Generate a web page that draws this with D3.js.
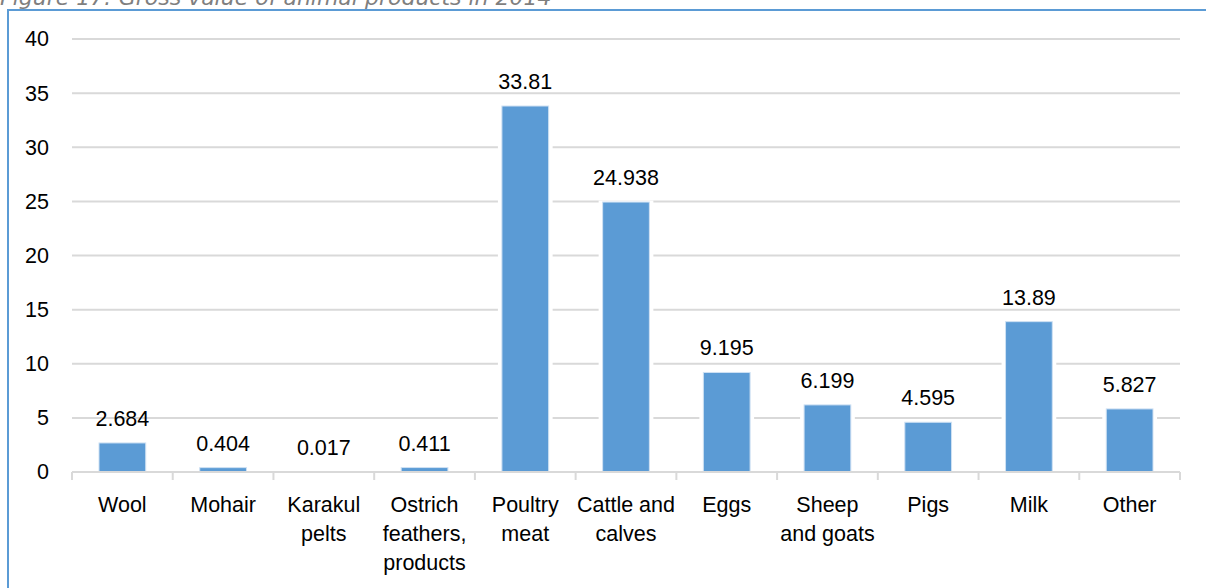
<!DOCTYPE html>
<html>
<head>
<meta charset="utf-8">
<script src="https://cdn.jsdelivr.net/npm/d3@7"></script>
<style>
  body { margin: 0; background: #fff; }
  svg { display: block; }
</style>
</head>
<body>
<svg id="bar-chart" width="1206" height="588"></svg>
<script>
// data
var categories = ["Wool", "Mohair", "Karakul pelts", "Ostrich feathers, products", "Poultry meat",
    "Cattle and calves", "Eggs", "Sheep and goats", "Pigs", "Milk", "Other"];
var labelLines = [["Wool"], ["Mohair"], ["Karakul", "pelts"], ["Ostrich", "feathers,", "products"],
    ["Poultry", "meat"], ["Cattle and", "calves"], ["Eggs"], ["Sheep", "and goats"], ["Pigs"], ["Milk"], ["Other"]];
var values = [2.684, 0.404, 0.017, 0.411, 33.81, 24.938, 9.195, 6.199, 4.595, 13.89, 5.827];
var yTicks = [0, 5, 10, 15, 20, 25, 30, 35, 40];
var title = "Figure 17: Gross value of animal products in 2014";

var svg = d3.select("#bar-chart");
var padding = {top: 39, right: 26, bottom: 116, left: 72};
var chartArea = {
    "width": 1206 - padding.left - padding.right,
    "height": 588 - padding.top - padding.bottom
};
var labelFont = "'Liberation Sans', Arial, sans-serif";

// frame + title (the top of it is cut off in the source image)
svg.append("text")
    .attr("x", 0)
    .attr("y", 5)
    .attr("fill", "#7f7f7f")
    .attr("font-family", "'DejaVu Sans', sans-serif")
    .attr("font-style", "italic")
    .attr("font-size", 22)
    .text(title);

svg.append("path")
    .attr("d", "M8,588 L8,10 L1206,10")
    .attr("fill", "none")
    .attr("stroke", "#5b9bd5")
    .attr("stroke-width", 2);

var yScale = d3.scaleLinear()
    .domain([0, 40])
    .range([chartArea.height, 0]);

var xScale = d3.scaleBand()
    .domain(categories)
    .range([0, chartArea.width])
    .padding(0);

var barW = xScale.bandwidth() * 0.464;

var g = svg.append("g")
    .attr("transform", "translate(" + padding.left + "," + padding.top + ")");

// gridlines
g.append("g")
    .selectAll("line")
    .data(yTicks.slice(1))
    .enter()
    .append("line")
    .attr("x1", 0)
    .attr("x2", chartArea.width)
    .attr("y1", function (d) { return yScale(d); })
    .attr("y2", function (d) { return yScale(d); })
    .attr("stroke", "#d9d9d9")
    .attr("stroke-width", 2);

// y axis labels
var yAxis = g.append("g")
    .call(d3.axisLeft(yScale).tickValues(yTicks).tickSize(0).tickPadding(23));
yAxis.select(".domain").remove();
yAxis.selectAll("text")
    .attr("font-family", labelFont)
    .attr("font-size", 21.5)
    .attr("fill", "#000");

// bars (white halo behind, like the excel outline)
var bars = g.append("g").attr("id", "allBars");
bars.selectAll("rect.halo")
    .data(values)
    .enter()
    .append("rect")
    .attr("class", "halo")
    .attr("x", function (d, i) { return xScale(categories[i]) + (xScale.bandwidth() - barW) / 2 - 4; })
    .attr("y", function (d) { return yScale(d) - 1.5; })
    .attr("width", barW + 8)
    .attr("height", function (d) { return chartArea.height - yScale(d) + 1.5; })
    .attr("fill", "#fff");

bars.selectAll("rect.bar")
    .data(values)
    .enter()
    .append("rect")
    .attr("class", "bar")
    .attr("x", function (d, i) { return xScale(categories[i]) + (xScale.bandwidth() - barW) / 2; })
    .attr("y", function (d) { return yScale(d); })
    .attr("width", barW)
    .attr("height", function (d) { return chartArea.height - yScale(d); })
    .attr("fill", "#5b9bd5")
    .attr("stroke", "#cfe1f3")
    .attr("stroke-width", 1);

// value labels
bars.selectAll("text")
    .data(values)
    .enter()
    .append("text")
    .attr("x", function (d, i) { return xScale(categories[i]) + xScale.bandwidth() / 2; })
    .attr("y", function (d) { return yScale(d) - 17; })
    .attr("text-anchor", "middle")
    .attr("font-family", labelFont)
    .attr("font-size", 21.5)
    .attr("fill", "#000")
    .text(function (d) { return String(d); });

// x axis: line + ticks at category boundaries
var xAxis = g.append("g")
    .attr("transform", "translate(0," + chartArea.height + ")");
xAxis.append("line")
    .attr("x1", 0)
    .attr("x2", chartArea.width)
    .attr("stroke", "#d9d9d9")
    .attr("stroke-width", 2);
xAxis.selectAll("line.tick")
    .data(categories.concat(["end"]))
    .enter()
    .append("line")
    .attr("class", "tick")
    .attr("x1", function (d, i) { return i * xScale.step(); })
    .attr("x2", function (d, i) { return i * xScale.step(); })
    .attr("y1", 0)
    .attr("y2", 8)
    .attr("stroke", "#d9d9d9")
    .attr("stroke-width", 2);

xAxis.selectAll("text")
    .data(categories)
    .enter()
    .append("text")
    .attr("x", function (d) { return xScale(d) + xScale.bandwidth() / 2; })
    .attr("y", 40)
    .attr("text-anchor", "middle")
    .attr("font-family", labelFont)
    .attr("font-size", 21.5)
    .attr("fill", "#000")
    .each(function (d, i) {
        var t = d3.select(this);
        labelLines[i].forEach(function (line, k) {
            t.append("tspan")
                .attr("x", xScale(d) + xScale.bandwidth() / 2)
                .attr("y", 40 + k * 29)
                .text(line);
        });
    });
</script>
</body>
</html>
